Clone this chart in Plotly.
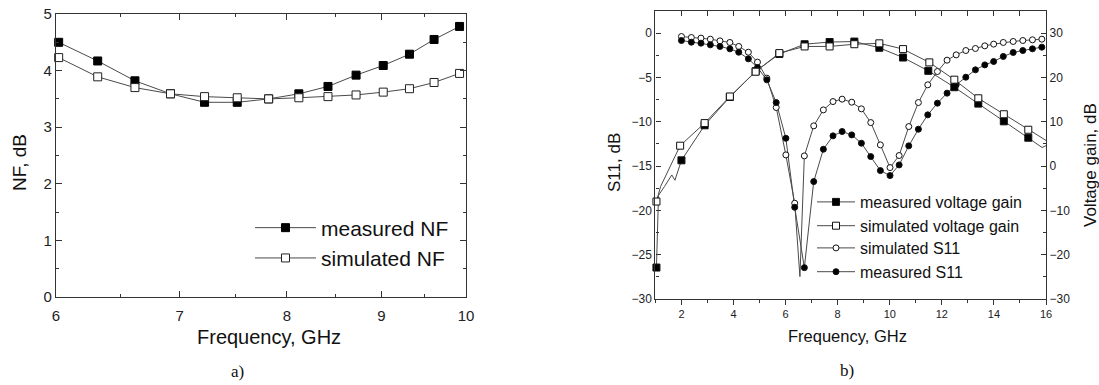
import math
import plotly.graph_objects as go

# ---------------- Panel a) : noise figure ----------------
nf_freq = [6.02, 6.32, 6.62, 6.92, 7.22, 7.52, 7.82, 8.12, 8.42, 8.72, 9.02, 9.32, 9.61, 9.92]
nf_measured = [4.50, 4.17, 3.82, 3.59, 3.44, 3.44, 3.50, 3.59, 3.72, 3.92, 4.09, 4.29, 4.55, 4.78]
nf_simulated = [4.23, 3.89, 3.70, 3.59, 3.54, 3.52, 3.50, 3.52, 3.54, 3.57, 3.62, 3.68, 3.79, 3.95]

nf_xticks = [6, 7, 8, 9, 10]
nf_xminor = [6.5, 7.5, 8.5, 9.5]

# ---------------- Panel b) : voltage gain and S11 ----------------
gain_meas_freq = [1.04, 2.00, 2.89, 3.86, 4.85, 5.76, 6.73, 7.69, 8.64, 9.60, 10.51, 11.48, 12.48, 13.40, 14.38, 15.32]
gain_meas = [-22.9, 1.3, 9.2, 15.6, 21.4, 25.3, 27.5, 28.0, 28.1, 26.7, 24.5, 21.5, 17.8, 14.1, 10.1, 6.4]
gain_meas_extra_freq = [1.12, 1.35, 1.63, 1.75, 15.70, 15.85, 16.00]
gain_meas_extra = [-6.6, -4.6, -2.0, -3.2, 4.8, 4.2, 4.6]

gain_sim_freq = [1.04, 1.95, 2.89, 3.86, 4.85, 5.76, 6.73, 7.69, 8.64, 9.60, 10.51, 11.52, 12.48, 13.40, 14.38, 15.32]
gain_sim = [-8.0, 4.6, 9.7, 15.7, 21.3, 25.5, 27.0, 27.0, 27.5, 27.7, 26.4, 23.4, 19.5, 15.3, 11.7, 8.2]
gain_sim_extra_freq = [1.20, 16.00]
gain_sim_extra = [-4.6, 5.8]

s11_freq = [2.00, 2.38, 2.75, 3.11, 3.48, 3.86, 4.20, 4.57, 4.92, 5.28, 5.64, 6.01, 6.35, 6.72,
            7.08, 7.45, 7.82, 8.17, 8.54, 8.91, 9.27, 9.64, 10.01, 10.36, 10.73, 11.10, 11.46,
            11.83, 12.20, 12.55, 12.92, 13.29, 13.65, 13.99, 14.36, 14.74, 15.11, 15.48, 15.84]
s11_sim = [-0.38, -0.49, -0.56, -0.68, -0.87, -1.05, -1.50, -2.15, -3.27, -5.08, -8.39, -13.74, -19.19, -13.85,
           -10.46, -8.66, -7.72, -7.45, -7.79, -8.54, -10.09, -12.61, -15.17, -13.81, -10.54, -7.83, -5.83,
           -4.33, -3.05, -2.45, -1.96, -1.73, -1.43, -1.24, -1.05, -0.94, -0.83, -0.75, -0.68]
s11_sim_extra_freq = [6.55]
s11_sim_extra = [-27.47]
s11_meas = [-0.83, -1.02, -1.13, -1.32, -1.50, -1.77, -2.15, -2.90, -3.88, -5.27, -7.83, -11.86, -19.65, -26.46,
            -16.75, -13.10, -11.59, -11.10, -11.48, -12.42, -13.93, -15.51, -16.07, -14.87, -12.72, -10.84, -9.22,
            -7.90, -6.77, -5.83, -4.97, -4.14, -3.58, -3.20, -2.63, -2.18, -1.96, -1.77, -1.58]

b_xticks = [2, 4, 6, 8, 10, 12, 14, 16]
s11_ticks = [-30, -25, -20, -15, -10, -5, 0]
gain_ticks = [-30, -20, -10, 0, 10, 20, 30]

W, H = 1099, 385
LINE = "#4a4a4a"
AX = "#333333"
SANS = "Arial, Liberation Sans, sans-serif"
SERIF = "Liberation Serif, Times New Roman, serif"


def merged(xs, ys, ex, ey):
    pts = sorted(zip(list(xs) + list(ex), list(ys) + list(ey)))
    return [p[0] for p in pts], [p[1] for p in pts]


def px(v):
    return v / W


def py(v):
    return 1 - v / H


fig = go.Figure()

# ---- panel a traces
fig.add_trace(go.Scatter(x=nf_freq, y=nf_measured, mode="lines+markers", name="measured NF",
                         line=dict(color=LINE, width=1),
                         marker=dict(symbol="square", size=8, color="black", line=dict(color="black", width=1)),
                         xaxis="x", yaxis="y", legend="legend", cliponaxis=False))
fig.add_trace(go.Scatter(x=nf_freq, y=nf_simulated, mode="lines+markers", name="simulated NF",
                         line=dict(color=LINE, width=1),
                         marker=dict(symbol="square", size=8, color="white", line=dict(color="#222", width=1)),
                         xaxis="x", yaxis="y", legend="legend", cliponaxis=False))

# ---- panel b traces
series = [
    ("measured voltage gain", gain_meas_freq, gain_meas, gain_meas_extra_freq, gain_meas_extra, "y3", "square", 7, "black", "legend2"),
    ("simulated voltage gain", gain_sim_freq, gain_sim, gain_sim_extra_freq, gain_sim_extra, "y3", "square", 7, "white", "legend2"),
    ("simulated S11", s11_freq, s11_sim, s11_sim_extra_freq, s11_sim_extra, "y2", "circle", 6, "white", "legend3"),
    ("measured S11", s11_freq, s11_meas, [], [], "y2", "circle", 6, "black", "legend3"),
]
for name, xs, ys, ex, ey, yax, sym, size, fill, leg in series:
    lx, ly = merged(xs, ys, ex, ey)
    fig.add_trace(go.Scatter(x=lx, y=ly, mode="lines", line=dict(color=LINE, width=1),
                             xaxis="x2", yaxis=yax, showlegend=False, hoverinfo="skip"))
for name, xs, ys, ex, ey, yax, sym, size, fill, leg in series:
    fig.add_trace(go.Scatter(x=xs, y=ys, mode="markers", name=name,
                             marker=dict(symbol=sym, size=size, color=fill, line=dict(color="#111", width=1)),
                             xaxis="x2", yaxis=yax, showlegend=False, cliponaxis=False))
for name, xs, ys, ex, ey, yax, sym, size, fill, leg in series:
    fig.add_trace(go.Scatter(x=[None], y=[None], mode="lines+markers", name=name,
                             line=dict(color=LINE, width=1),
                             marker=dict(symbol=sym, size=size, color=fill, line=dict(color="#111", width=1)),
                             xaxis="x2", yaxis="y2", legend=leg))
# empty trace so the mirrored top axis of panel b is drawn
fig.add_trace(go.Scatter(x=[None], y=[None], mode="lines", xaxis="x3", yaxis="y2", showlegend=False))

common = dict(showline=True, linecolor=AX, linewidth=1.3, showgrid=False, zeroline=False,
              tickcolor=AX, automargin=False)

leg_common = dict(xanchor="left", yanchor="top", bgcolor="rgba(0,0,0,0)")

fig.update_layout(
    width=W, height=H, margin=dict(l=0, r=0, t=0, b=0, autoexpand=False),
    paper_bgcolor="white", plot_bgcolor="white",
    font=dict(family=SANS, color="#111"),
    xaxis=dict(domain=[px(56), px(466)], anchor="y", type="log",
               range=[math.log10(6), math.log10(10)], tickmode="array", tickvals=nf_xticks,
               ticks="inside", ticklen=6, tickwidth=1.2, mirror="ticks", ticklabelstandoff=5,
               minor=dict(tickmode="array", tickvals=nf_xminor, ticks="inside", ticklen=3, tickcolor=AX),
               tickfont=dict(family=SANS, color="#222", size=15), **common),
    yaxis=dict(domain=[py(297), py(14)], anchor="x", range=[0, 5], tickmode="array", tickvals=[0, 1, 2, 3, 4, 5],
               ticks="inside", ticklen=6, tickwidth=1.2, mirror="ticks",
               minor=dict(dtick=0.5, ticks="inside", ticklen=3, tickcolor=AX),
               tickfont=dict(family=SANS, color="#222", size=15), **common),
    xaxis2=dict(domain=[px(655.4), px(1046)], anchor="y2", range=[1, 16], tickmode="array", tickvals=b_xticks,
                ticks="outside", ticklen=5,
                minor=dict(dtick=1, tick0=1, ticks="outside", ticklen=3, tickcolor=AX),
                tickfont=dict(family=SANS, color="#222", size=11), **common),
    xaxis3=dict(overlaying="x2", anchor="y2", side="top", range=[1, 16], tickmode="linear", tick0=2, dtick=1,
                ticks="inside", ticklen=5, showticklabels=False, **common),
    yaxis2=dict(domain=[py(299), py(11)], anchor="x2", range=[-30, 2.5], tickmode="array", tickvals=s11_ticks,
                ticks="inside", ticklen=5,
                minor=dict(dtick=2.5, tick0=0, ticks="inside", ticklen=3, tickcolor=AX),
                tickfont=dict(family=SANS, color="#222", size=12), **common),
    yaxis3=dict(anchor="x2", overlaying="y2", side="right", range=[-30, 35], tickmode="array", tickvals=gain_ticks,
                ticks="inside", ticklen=5,
                minor=dict(dtick=5, tick0=0, ticks="inside", ticklen=3, tickcolor=AX),
                tickfont=dict(family=SANS, color="#222", size=12), **common),
    legend=dict(x=px(250), y=py(207.5), itemwidth=61, font=dict(family=SANS, size=21, color="#111"), **leg_common),
    legend2=dict(x=px(812), y=py(185), itemwidth=38, font=dict(family=SANS, size=16, color="#111"), **leg_common),
    legend3=dict(x=px(812), y=py(231), itemwidth=38, font=dict(family=SANS, size=16, color="#111"), **leg_common),
    annotations=[
        dict(text="NF, dB", x=px(19), y=py(163), textangle=-90, font=dict(family=SANS, size=19, color="#111")),
        dict(text="Frequency, GHz", x=px(269), y=py(337), font=dict(family=SANS, size=20, color="#111")),
        dict(text="a)", x=px(237), y=py(371), font=dict(family=SERIF, size=17, color="#111")),
        dict(text="S11, dB", x=px(614), y=py(163), textangle=-90, font=dict(family=SANS, size=17, color="#111")),
        dict(text="Voltage gain, dB", x=px(1090), y=py(165), textangle=-90,
             font=dict(family=SANS, size=17, color="#111")),
        dict(text="Frequency, GHz", x=px(847), y=py(336), font=dict(family=SANS, size=16.5, color="#111")),
        dict(text="b)", x=px(847), y=py(370), font=dict(family=SERIF, size=17, color="#111")),
    ],
)
fig.update_annotations(xref="paper", yref="paper", showarrow=False, xanchor="center", yanchor="middle")

fig.write_html("out.html", config={"displayModeBar": False},
               post_script="document.body.style.margin='0';document.body.style.overflow='hidden';")
